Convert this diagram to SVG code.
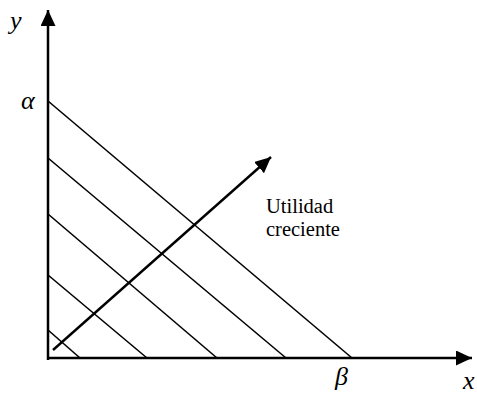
<svg xmlns="http://www.w3.org/2000/svg" width="477" height="394" viewBox="0 0 477 394">
<style>
.axis{stroke:#000;stroke-width:2.5;fill:none}
.iso{stroke:#000;stroke-width:1.6;fill:none}
.arr{stroke:#000;stroke-width:2.4;fill:none}
.lbl{font-family:"Liberation Serif","Times New Roman","DejaVu Serif",serif;font-style:italic;font-size:26px;fill:#000}
.txt{font-family:"Liberation Serif","Times New Roman","DejaVu Serif",serif;font-size:20.5px;fill:#000}
</style>
<defs>
<marker id="ah" markerUnits="userSpaceOnUse" markerWidth="18" markerHeight="16" refX="16" refY="7.5" orient="auto">
<path d="M0,0 L16,7.5 L0,15 Z" fill="#000"/>
</marker>
</defs>
<rect width="477" height="394" fill="#fff"/>
<g id="connectors">
<line class="axis" x1="48" y1="360" x2="48" y2="10" marker-end="url(#ah)"/>
<line class="axis" x1="47" y1="358" x2="472" y2="358" marker-end="url(#ah)"/>
<line class="iso" x1="48" y1="101" x2="352" y2="358"/>
<line class="iso" x1="48" y1="158" x2="286" y2="358"/>
<line class="iso" x1="48" y1="214" x2="217" y2="358"/>
<line class="iso" x1="48" y1="275" x2="147" y2="358"/>
<line class="iso" x1="48" y1="330" x2="80" y2="358"/>
<line class="arr" x1="53" y1="350" x2="271" y2="157" marker-end="url(#ah)"/>
</g>
<g id="label-y"><text class="lbl" x="10" y="29">y</text></g>
<g id="label-alpha"><text class="lbl" x="21" y="109">α</text></g>
<g id="label-beta"><text class="lbl" x="335" y="385">β</text></g>
<g id="label-x"><text class="lbl" x="463" y="389">x</text></g>
<g id="label-utilidad"><text class="txt" x="266" y="213">Utilidad</text><text class="txt" x="266" y="236">creciente</text></g>
</svg>
